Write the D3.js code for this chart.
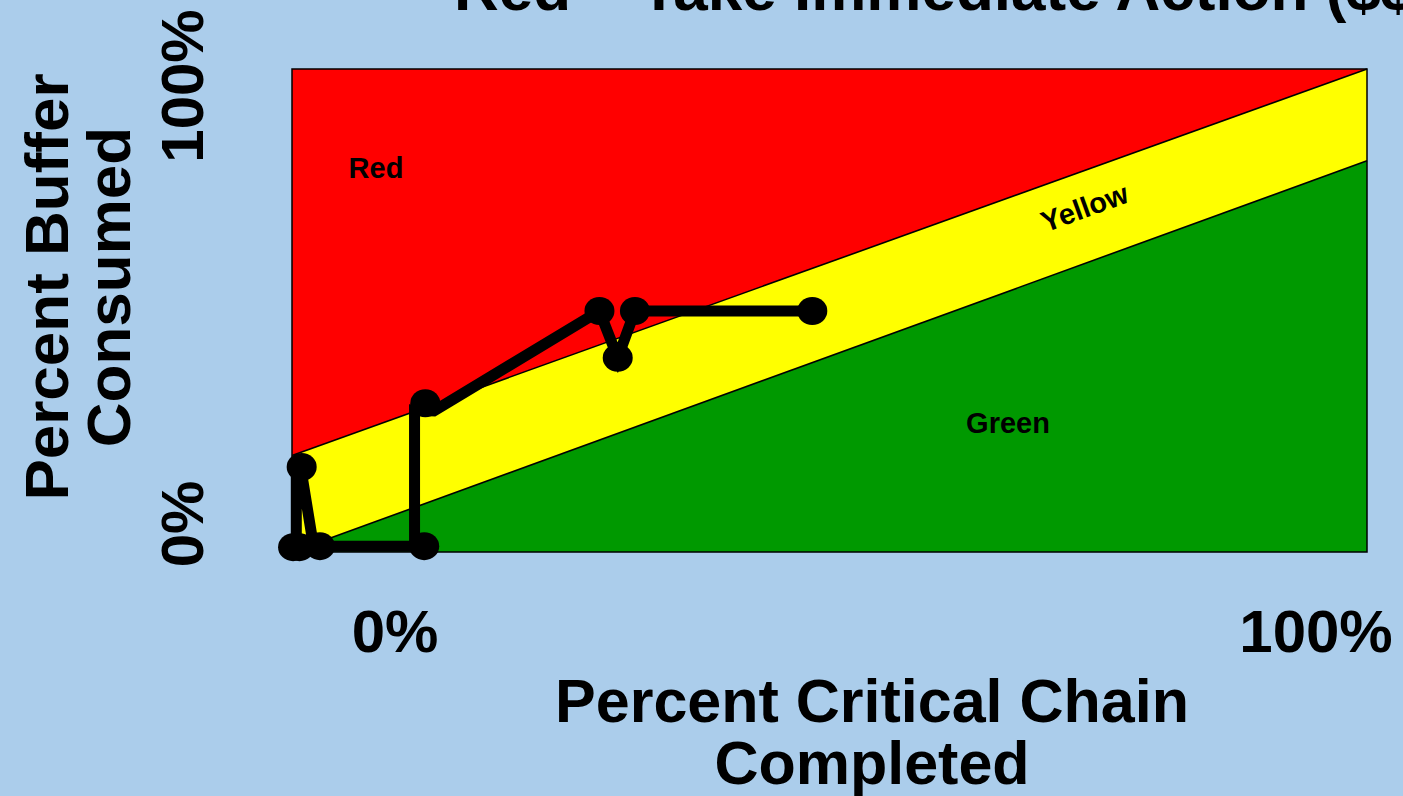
<!DOCTYPE html>
<html>
<head>
<meta charset="utf-8">
<script src="https://cdn.jsdelivr.net/npm/d3@7"></script>
<style>
  html, body { margin: 0; padding: 0; background: #abcdeb; overflow: hidden; }
  svg { display: block; }
  text { font-family: "Liberation Sans", Arial, sans-serif; font-weight: bold; fill: #000; }
</style>
</head>
<body>
<svg id="chart" width="1403" height="796"></svg>
<script>
// Buffer zone boundaries (percent buffer consumed at 0% and 100% chain completed)
const zoneX = [0, 100];
const greenTop = [0, 81];      // green / yellow boundary
const redBottom = [20, 100];   // yellow / red boundary
const zoneTop = [100, 100];
const zoneBase = [0, 0];

// Project status history: percent critical chain completed vs percent buffer consumed
const statusX = [0.1, 0.7, 2.6, 12.3, 0.9, 12.4, 28.6, 30.3, 31.9, 48.4];
const statusY = [1.0, 1.0, 1.2, 1.2, 17.6, 30.8, 49.9, 40.2, 49.9, 49.9];

// Trend line vertices as drawn through the status points
const trendX = [0.4, 0.4, 0.8, 2.0, 11.4, 11.4, 13.2, 28.6, 30.3, 31.9, 48.4];
const trendY = [1.0, 16.6, 17.6, 1.2, 1.2, 29.4, 29.2, 49.9, 40.2, 49.9, 49.9];

// Axis tick labels
const xTickLabels = ["0%", "100%"];
const yTickLabels = ["0%", "100%"];

const zoneNames = ["Red", "Yellow", "Green"];
const zoneColors = { Red: "#ff0000", Yellow: "#ffff00", Green: "#009900" };

const titleText = "Red \u2013 Take Immediate Action ($$$)";
const xTitle = ["Percent Critical Chain", "Completed"];
const yTitle = ["Percent Buffer", "Consumed"];

const svg = d3.select("#chart");

const x = d3.scaleLinear().domain([0, 100]).range([292, 1367]);
const y = d3.scaleLinear().domain([0, 100]).range([552, 69]);

// Tick label placement scales
const xLab = d3.scalePoint().domain(xTickLabels).range([395, 1316]);
const yLab = d3.scalePoint().domain(yTickLabels).range([524, 86]);

// Zone bands
const band = (lower, upper) => d3.area()
  .x((d, i) => x(zoneX[i]))
  .y0((d, i) => y(lower[i]))
  .y1((d, i) => y(upper[i]))(zoneX);

const bands = [
  { name: "Green", lower: zoneBase, upper: greenTop },
  { name: "Yellow", lower: greenTop, upper: redBottom },
  { name: "Red", lower: redBottom, upper: zoneTop }
];

svg.append("g").selectAll("path")
  .data(bands)
  .join("path")
  .attr("d", d => band(d.lower, d.upper))
  .attr("fill", d => zoneColors[d.name])
  .attr("stroke", "none");

// Boundary lines
const edge = d3.line().x((d, i) => x(zoneX[i])).y(d => y(d));
[greenTop, redBottom].forEach(b => {
  svg.append("path")
    .attr("d", edge(b))
    .attr("fill", "none")
    .attr("stroke", "#000")
    .attr("stroke-width", 1.6);
});

// Plot frame
svg.append("rect")
  .attr("x", x(0)).attr("y", y(100))
  .attr("width", x(100) - x(0)).attr("height", y(0) - y(100))
  .attr("fill", "none").attr("stroke", "#000").attr("stroke-width", 1.5);

// Zone labels
svg.append("text").attr("x", 376).attr("y", 178)
  .attr("text-anchor", "middle").attr("font-size", 29).text(zoneNames[0]);
svg.append("text").attr("x", 1008).attr("y", 433)
  .attr("text-anchor", "middle").attr("font-size", 29).text(zoneNames[2]);
svg.append("text")
  .attr("transform", "translate(1088,217) rotate(-20)")
  .attr("text-anchor", "middle").attr("font-size", 29).text(zoneNames[1]);

// Trend line
const trend = d3.line()
  .x((d, i) => x(trendX[i]))
  .y((d, i) => y(trendY[i]));
svg.append("path")
  .attr("d", trend(trendX))
  .attr("fill", "none")
  .attr("stroke", "#000")
  .attr("stroke-width", 11)
  .attr("stroke-linejoin", "miter")
  .attr("stroke-linecap", "butt");

// Status markers
svg.append("g").selectAll("ellipse")
  .data(statusX)
  .join("ellipse")
  .attr("cx", d => x(d))
  .attr("cy", (d, i) => y(statusY[i]))
  .attr("rx", 15)
  .attr("ry", 14)
  .attr("fill", "#000");

// X tick labels
svg.append("g").selectAll("text")
  .data(xTickLabels)
  .join("text")
  .attr("x", d => xLab(d))
  .attr("y", 652)
  .attr("text-anchor", "middle")
  .attr("font-size", 60)
  .text(d => d);

// Y tick labels (rotated)
svg.append("g").selectAll("text")
  .data(yTickLabels)
  .join("text")
  .attr("transform", d => `translate(203,${yLab(d)}) rotate(-90)`)
  .attr("text-anchor", "middle")
  .attr("font-size", 60)
  .text(d => d);

// X axis title
svg.append("g").selectAll("text")
  .data(xTitle)
  .join("text")
  .attr("x", 872)
  .attr("y", (d, i) => 722 + i * 62)
  .attr("text-anchor", "middle")
  .attr("font-size", 61)
  .text(d => d);

// Y axis title
svg.append("g").selectAll("text")
  .data(yTitle)
  .join("text")
  .attr("transform", (d, i) => `translate(${68 + i * 62},287) rotate(-90)`)
  .attr("text-anchor", "middle")
  .attr("font-size", 62)
  .text(d => d);

// Slide title
svg.append("text")
  .attr("x", 454).attr("y", 10)
  .attr("font-size", 62)
  .text(titleText);
</script>
</body>
</html>
